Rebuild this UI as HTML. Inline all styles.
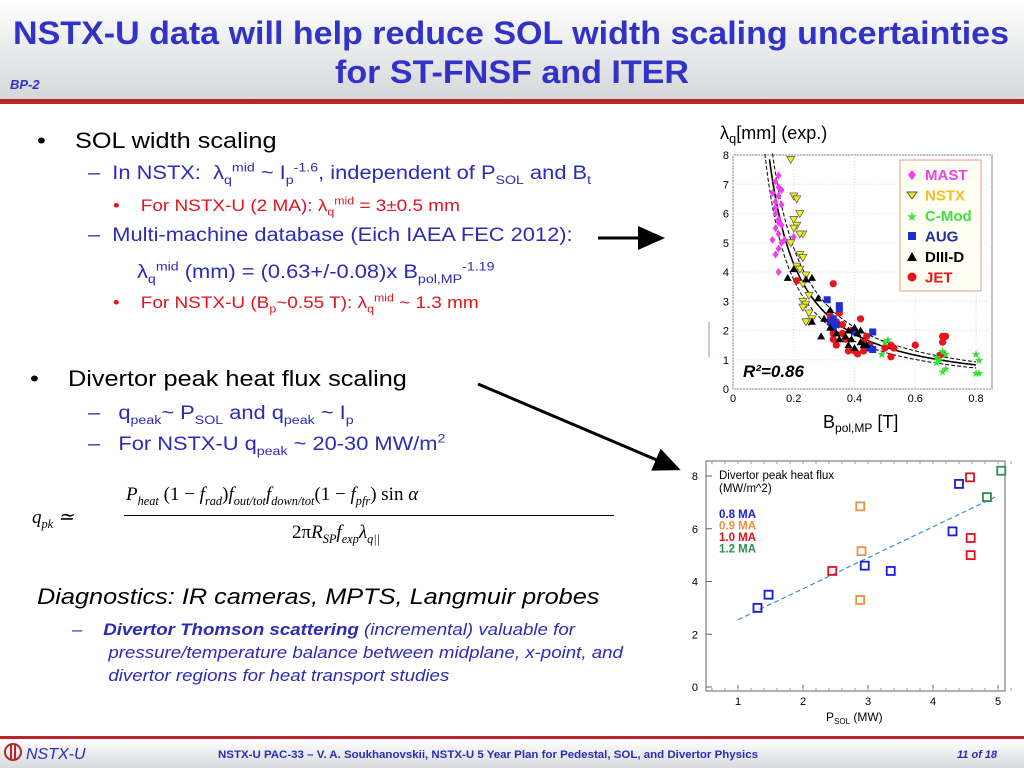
<!DOCTYPE html>
<html><head><meta charset="utf-8">
<style>
body{margin:0;width:1024px;height:768px;overflow:hidden;background:#fff;font-family:"Liberation Sans",Arial,sans-serif;position:relative}
.a{position:absolute;white-space:nowrap}
.s{transform:scaleX(1.15);transform-origin:0 0}
.blk{color:#000;font-size:22px}
.blu{color:#2b2bb8;font-size:19px}
.red{color:#e0141e;font-size:16.5px}
sub,sup{font-size:65%;line-height:0}
.it{font-style:italic}
</style></head><body>
<div class="a" style="left:0;top:0;width:1024px;height:100px;background:linear-gradient(#ffffff,#d4d6d8)"></div>
<div class="a" style="left:0;top:99px;width:1024px;height:5px;background:#b8252a"></div>
<svg class="a" style="left:0;top:0" width="1024" height="100">
<text x="511" y="44" text-anchor="middle" textLength="996" lengthAdjust="spacingAndGlyphs" font-family="Liberation Sans" font-weight="bold" font-size="32" fill="#3232c8">NSTX-U data will help reduce SOL width scaling uncertainties</text>
<text x="512" y="83" text-anchor="middle" textLength="354" lengthAdjust="spacingAndGlyphs" font-family="Liberation Sans" font-weight="bold" font-size="32" fill="#3232c8">for ST-FNSF and ITER</text>
<text x="10" y="89" font-family="Liberation Sans" font-weight="bold" font-style="italic" font-size="13" fill="#3232c8">BP-2</text>
</svg>

<div class="a blk s" style="left:37px;top:128px">•<span style="position:absolute;left:33px">SOL width scaling</span></div>
<div class="a blu s" style="left:88px;top:163px">–&nbsp; In NSTX:&nbsp; λ<sub>q</sub><sup>mid</sup> ~ I<sub>p</sub><sup>-1.6</sup>, independent of P<sub>SOL</sub> and B<sub>t</sub></div>
<div class="a red s" style="left:113px;top:197px">•&nbsp;&nbsp;&nbsp; For NSTX-U (2 MA): λ<sub>q</sub><sup>mid</sup> = 3±0.5 mm</div>
<div class="a blu s" style="left:88px;top:225px">–&nbsp; Multi-machine database (Eich IAEA FEC 2012):</div>
<div class="a blu s" style="left:137px;top:262px">λ<sub>q</sub><sup>mid</sup> (mm) = (0.63+/-0.08)x B<sub>pol,MP</sub><sup>-1.19</sup></div>
<div class="a red s" style="left:113px;top:294px">•&nbsp;&nbsp;&nbsp; For NSTX-U (B<sub>p</sub>~0.55 T): λ<sub>q</sub><sup>mid</sup> ~ 1.3 mm</div>

<div class="a blk s" style="left:30px;top:366px">•<span style="position:absolute;left:33px">Divertor peak heat flux scaling</span></div>
<div class="a blu s" style="left:88px;top:403px">–&nbsp;&nbsp; q<sub>peak</sub>~ P<sub>SOL</sub> and q<sub>peak</sub> ~ I<sub>p</sub></div>
<div class="a blu s" style="left:88px;top:434px">–&nbsp;&nbsp; For NSTX-U q<sub>peak</sub> ~ 20-30 MW/m<sup>2</sup></div>

<div class="a" style="left:32px;top:484px;font-family:'Liberation Serif',serif;font-size:19px;font-style:italic">
<span style="position:absolute;left:0;top:22px">q<sub>pk</sub> ≃</span>
<span style="position:absolute;left:94px;top:0">P<sub>heat</sub> <span style="font-style:normal">(1 −</span> f<sub>rad</sub><span style="font-style:normal">)</span>f<sub>out/tot</sub>f<sub>down/tot</sub><span style="font-style:normal">(1 −</span> f<sub>pfr</sub><span style="font-style:normal">) sin</span> α</span>
<span style="position:absolute;left:92px;top:31px;width:490px;height:1px;background:#000"></span>
<span style="position:absolute;left:260px;top:38px"><span style="font-style:normal">2π</span>R<sub>SP</sub>f<sub>exp</sub>λ<sub>q||</sub></span>
</div>

<div class="a it s" style="left:37px;top:584px;font-size:22px">Diagnostics: IR cameras, MPTS, Langmuir probes</div>
<div class="a blu it" style="left:72px;top:618px;font-size:17px;line-height:23px;transform:scaleX(1.1);transform-origin:0 0">–&nbsp;&nbsp;&nbsp; <b>Divertor Thomson scattering</b> (incremental) valuable for<br>&nbsp;&nbsp;&nbsp;&nbsp;&nbsp;&nbsp; pressure/temperature balance between midplane, x-point, and<br>&nbsp;&nbsp;&nbsp;&nbsp;&nbsp;&nbsp; divertor regions for heat transport studies</div>

<svg class="a" style="left:0;top:0" width="1024" height="768">
<defs><marker id="ah" markerWidth="10" markerHeight="10" refX="8" refY="5" orient="auto"><path d="M0,1 L9,5 L0,9 z" fill="#000"/></marker></defs>
<line x1="598" y1="238" x2="662" y2="238" stroke="#000" stroke-width="3" marker-end="url(#ah)"/>
<line x1="478" y1="384" x2="678" y2="469" stroke="#000" stroke-width="3" marker-end="url(#ah)"/>
</svg>

<svg id="c1" class="a" style="left:0;top:0" width="1024" height="768"></svg>
<svg id="c2" class="a" style="left:0;top:0" width="1024" height="768"></svg>

<div class="a" style="left:0;top:736px;width:1024px;height:3px;background:#b8252a"></div>
<div class="a" style="left:0;top:739px;width:1024px;height:29px;background:linear-gradient(#ffffff,#d8dadc)"></div>
<svg class="a" style="left:0;top:739px" width="1024" height="29">
<circle cx="13" cy="13" r="8" fill="none" stroke="#b8252a" stroke-width="2"/><line x1="11" y1="6" x2="11" y2="20" stroke="#b8252a" stroke-width="2"/><line x1="15" y1="6" x2="15" y2="20" stroke="#b8252a" stroke-width="2"/>
<text x="26" y="20" font-family="Liberation Sans" font-style="italic" font-size="16" fill="#2b2bb8">NSTX-U</text>
<text x="218" y="19" textLength="540" lengthAdjust="spacingAndGlyphs" font-family="Liberation Sans" font-weight="bold" font-size="11" fill="#2b2bb8">NSTX-U PAC-33 –  V. A. Soukhanovskii, NSTX-U 5 Year Plan for Pedestal, SOL, and Divertor Physics</text>
<text x="957" y="19" font-family="Liberation Sans" font-weight="bold" font-style="italic" font-size="11" fill="#2b2bb8">11  of 18</text>
</svg>

<script>
// ---------- Chart 1: lambda_q vs B_pol ----------
const c1XTicks=[0,0.2,0.4,0.6,0.8];
const c1YTicks=[0,1,2,3,4,5,6,7,8];
const fitCoef=[0.63,0.55,0.71];
const fitExp=-1.19;
const mastB=[0.13,0.14,0.14,0.15,0.15,0.15,0.16,0.14,0.15,0.16,0.14,0.15,0.13,0.16,0.15,0.14,0.15,0.16,0.2,0.17,0.15,0.14];
const mastL=[6.7,7.1,6.4,7.3,6.9,6.6,6.3,6.0,5.8,5.6,5.5,5.3,5.1,5.0,4.8,4.6,4.0,6.8,5.2,5.1,5.7,6.2];
const nstxB=[0.19,0.2,0.21,0.22,0.2,0.21,0.2,0.23,0.22,0.19,0.22,0.23,0.21,0.22,0.24,0.23,0.25,0.23,0.24,0.23,0.25,0.26,0.25,0.24];
const nstxL=[7.85,6.6,6.5,6.0,5.8,5.6,5.5,5.3,5.3,5.0,4.6,4.5,4.2,4.1,3.9,3.6,3.2,3.0,2.9,2.8,2.6,2.4,2.3,2.3];
const cmodB=[0.49,0.5,0.51,0.69,0.68,0.67,0.7,0.69,0.8,0.81,0.8,0.81,0.67,0.7];
const cmodL=[1.2,1.6,1.7,1.3,1.0,0.9,0.7,0.6,1.2,1.0,0.55,0.55,1.1,1.2];
const augB=[0.31,0.35,0.35,0.33,0.32,0.34,0.4,0.46,0.45,0.46,0.33];
const augL=[3.05,2.85,2.75,2.4,2.3,2.2,1.95,1.95,1.4,1.35,2.1];
const d3dB=[0.18,0.2,0.24,0.26,0.28,0.26,0.29,0.3,0.32,0.32,0.34,0.35,0.37,0.38,0.39,0.4,0.41,0.42,0.43,0.44,0.42,0.38,0.4];
const d3dL=[3.8,4.1,3.75,3.8,3.1,2.3,1.8,2.4,2.1,2.7,1.9,1.7,1.8,2.0,1.7,2.1,1.9,1.6,1.5,1.5,2.0,1.5,1.4];
const jetB=[0.21,0.33,0.32,0.34,0.35,0.36,0.36,0.33,0.34,0.38,0.4,0.41,0.43,0.42,0.44,0.39,0.37,0.5,0.52,0.52,0.53,0.6,0.69,0.7,0.69,0.69,0.68,0.33,0.43,0.45];
const jetL=[3.7,3.6,2.5,2.3,2.6,2.2,1.9,1.7,1.5,1.3,1.3,1.2,1.3,2.4,1.8,2.0,1.7,1.4,1.5,1.1,1.4,1.5,1.8,1.8,1.6,1.2,1.15,1.9,1.6,1.5];

// ---------- Chart 2: divertor peak heat flux ----------
const c2XTicks=[1,2,3,4,5];
const c2YTicks=[0,2,4,6,8];
const ma08P=[1.3,1.47,2.95,3.35,4.3,4.4];
const ma08Q=[3.0,3.5,4.6,4.4,5.9,7.7];
const ma09P=[2.88,2.9,2.88];
const ma09Q=[6.85,5.15,3.3];
const ma10P=[2.45,4.57,4.58,4.58];
const ma10Q=[4.4,7.95,5.65,5.0];
const ma12P=[4.83,5.05];
const ma12Q=[7.2,8.2];
const fitP=[1,5];
const fitQ=[2.55,7.25];

const NS='http://www.w3.org/2000/svg';
function mk(parent,tag,attrs,txt){const e=document.createElementNS(NS,tag);for(const k in attrs)e.setAttribute(k,attrs[k]);if(txt!=null)e.textContent=txt;parent.appendChild(e);return e;}

(function(){
const s=document.getElementById('c1');
const X=b=>733+b*303.75, Y=l=>389-l*29.25;
let r=mk(s,'rect',{x:733,y:155,width:259,height:234,fill:'#fff',stroke:'#888'});


c1XTicks.forEach(v=>{mk(s,'line',{x1:X(v),y1:155,x2:X(v),y2:389,stroke:'#ddd','stroke-dasharray':'1,2'});
 const t=mk(s,'text',{x:X(v),y:402,'text-anchor':'middle','font-size':11,'font-family':'Liberation Sans'},v===0?'0':v.toFixed(1));
 
 });
c1YTicks.forEach(v=>{mk(s,'line',{x1:733,y1:Y(v),x2:992,y2:Y(v),stroke:'#ddd','stroke-dasharray':'1,2'});
 const t=mk(s,'text',{x:729,y:Y(v)+4,'text-anchor':'end','font-size':11,'font-family':'Liberation Sans'},String(v));
 
 });
fitCoef.forEach((c,i)=>{let d='';for(let b=0.08;b<=0.8001;b+=0.005){const l=c*Math.pow(b,fitExp);if(l>8.2)continue;d+=(d?'L':'M')+X(b).toFixed(1)+','+Y(l).toFixed(1);}
 const p=mk(s,'path',{d:d,fill:'none',stroke:'#000','stroke-width':i===0?1.6:1,'stroke-dasharray':i===0?'none':'4,2'});
 
 });
function pts(B,L,name,draw){B.forEach((b,i)=>{const g=draw(X(b),Y(L[i]));
 });}
pts(jetB,jetL,'jet-point',(x,y)=>mk(s,'circle',{cx:x,cy:y,r:3.6,fill:'#e8141a'}));
pts(mastB,mastL,'mast-point',(x,y)=>mk(s,'path',{d:`M${x},${y-4}L${x+3},${y}L${x},${y+4}L${x-3},${y}Z`,fill:'#f040f0'}));
pts(nstxB,nstxL,'nstx-point',(x,y)=>mk(s,'path',{d:`M${x-4},${y-3}L${x+4},${y-3}L${x},${y+4}Z`,fill:'#f0f020',stroke:'#555','stroke-width':0.7}));
pts(cmodB,cmodL,'cmod-point',(x,y)=>mk(s,'text',{x:x,y:y+4,'text-anchor':'middle','font-size':11,fill:'#30e030'},'★'));
pts(augB,augL,'aug-point',(x,y)=>mk(s,'rect',{x:x-3.5,y:y-3.5,width:7,height:7,fill:'#2030d0'}));
pts(d3dB,d3dL,'diiid-point',(x,y)=>mk(s,'path',{d:`M${x},${y-4}L${x+4},${y+3}L${x-4},${y+3}Z`,fill:'#000'}));
const lg=mk(s,'g',{});
mk(lg,'rect',{x:900,y:160,width:81,height:131,fill:'#fffff4',stroke:'#e0a080'});
const ln=[['MAST','#f040f0'],['NSTX','#f0c020'],['C-Mod','#40e040'],['AUG','#2030a0'],['DIII-D','#000'],['JET','#e8141a']];
ln.forEach((e,i)=>{const y=180+i*20.5;const t=mk(lg,'text',{x:925,y:y,'font-size':15,'font-weight':'bold','font-family':'Liberation Sans',fill:e[1]},e[0]);
 
 });
mk(lg,'path',{d:'M912,170L916,175L912,180L908,175Z',fill:'#f040f0'});
mk(lg,'path',{d:'M907,192L917,192L912,199Z',fill:'#f0f020',stroke:'#555'});
mk(lg,'text',{x:912,y:221,'text-anchor':'middle','font-size':13,fill:'#40e040'},'★');
mk(lg,'rect',{x:908,y:232,width:8,height:8,fill:'#2030d0'});
mk(lg,'path',{d:'M912,252L917,261L907,261Z',fill:'#000'});
mk(lg,'circle',{cx:912,cy:277,r:4.5,fill:'#e8141a'});
const r2=mk(s,'text',{x:743,y:377,'font-size':17,'font-weight':'bold','font-style':'italic','font-family':'Liberation Sans'},'R²=0.86');

const yt=mk(s,'text',{x:720,y:139,'font-size':18,'font-family':'Liberation Sans'},'');
yt.innerHTML='λ<tspan font-size="13" dy="4">q</tspan><tspan dy="-4">[mm] (exp.)</tspan>';

const xt=mk(s,'text',{x:823,y:428,'font-size':18,'font-family':'Liberation Sans'},'');
xt.innerHTML='B<tspan font-size="12" dy="4">pol,MP</tspan><tspan dy="-4"> [T]</tspan>';

mk(s,'line',{x1:709,y1:322,x2:709,y2:357,stroke:'#9090c0'});
})();

(function(){
const s=document.getElementById('c2');
const X=p=>738+(p-1)*65, Y=q=>687-q*26.375;
const r=mk(s,'rect',{x:706,y:461,width:299,height:230,fill:'#fff',stroke:'#666'});

c2XTicks.forEach(v=>{mk(s,'line',{x1:X(v),y1:691,x2:X(v),y2:685,stroke:'#666'});
 const t=mk(s,'text',{x:X(v),y:705,'text-anchor':'middle','font-size':11,'font-family':'Liberation Sans'},String(v));
 });
for(let v=0.6;v<5.4;v+=0.2){mk(s,'line',{x1:X(v),y1:691,x2:X(v),y2:688,stroke:'#999'});mk(s,'line',{x1:X(v),y1:461,x2:X(v),y2:464,stroke:'#999'});}
c2YTicks.forEach(v=>{mk(s,'line',{x1:706,y1:Y(v),x2:712,y2:Y(v),stroke:'#666'});
 const t=mk(s,'text',{x:698,y:Y(v)+4,'text-anchor':'end','font-size':11,'font-family':'Liberation Sans'},String(v));
 });
const fl=mk(s,'line',{x1:X(fitP[0]),y1:Y(fitQ[0]),x2:X(fitP[1]),y2:Y(fitQ[1]),stroke:'#3a90d0','stroke-width':1.2,'stroke-dasharray':'5,3'});

[[ma08P,ma08Q,'#1a1ae0','0.8 MA'],[ma09P,ma09Q,'#f09040','0.9 MA'],[ma10P,ma10Q,'#e01020','1.0 MA'],[ma12P,ma12Q,'#289050','1.2 MA']].forEach((sr,k)=>{
 sr[0].forEach((p,i)=>{const m=mk(s,'rect',{x:X(p)-4,y:Y(sr[1][i])-4,width:8,height:8,fill:'none',stroke:sr[2],'stroke-width':1.8});
  
  });
 const t=mk(s,'text',{x:719,y:518+k*11.5,'font-size':11.5,'font-weight':'bold','font-family':'Liberation Sans',fill:sr[2]},sr[3]);
 });
const h=mk(s,'text',{x:719,y:479,'font-size':11.5,'font-family':'Liberation Sans'},'Divertor peak heat flux');

mk(s,'text',{x:719,y:492,'font-size':11.5,'font-family':'Liberation Sans'},'(MW/m^2)');
const xt=mk(s,'text',{x:826,y:721,'font-size':12,'font-family':'Liberation Sans'},'');
xt.innerHTML='P<tspan font-size="8" dy="3">SOL</tspan><tspan dy="-3"> (MW)</tspan>';

})();
</script>
</body></html>
